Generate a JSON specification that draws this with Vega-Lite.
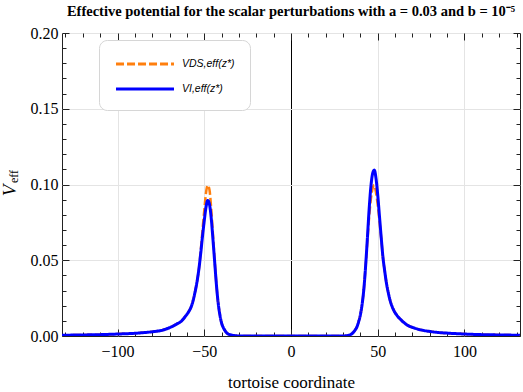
{
  "$schema": "https://vega.github.io/schema/vega-lite/v6.json",
  "width": 458,
  "height": 303,
  "autosize": {"type": "none"},
  "padding": {"left": 62, "top": 33, "right": 3, "bottom": 56},
  "background": "white",
  "config": {
    "view": {"stroke": "#222222", "strokeWidth": 1},
    "font": "Liberation Serif"
  },
  "title": {
    "text": "Effective potential for the scalar perturbations with a = 0.03 and b = 10⁻⁵",
    "font": "Liberation Serif",
    "fontSize": 14.5,
    "fontWeight": "bold",
    "color": "#000000",
    "anchor": "middle",
    "frame": "group",
    "baseline": "alphabetic",
    "offset": -5
  },
  "datasets": {
    "curves": [
      {"series": "VDS,eff(z*)", "x": -132, "v": 0.0005},
      {"series": "VDS,eff(z*)", "x": -120, "v": 0.0007},
      {"series": "VDS,eff(z*)", "x": -110, "v": 0.0009},
      {"series": "VDS,eff(z*)", "x": -100, "v": 0.0013},
      {"series": "VDS,eff(z*)", "x": -90, "v": 0.0018},
      {"series": "VDS,eff(z*)", "x": -80, "v": 0.0028},
      {"series": "VDS,eff(z*)", "x": -75, "v": 0.0036},
      {"series": "VDS,eff(z*)", "x": -70, "v": 0.0055},
      {"series": "VDS,eff(z*)", "x": -66, "v": 0.0078},
      {"series": "VDS,eff(z*)", "x": -63, "v": 0.0100},
      {"series": "VDS,eff(z*)", "x": -61, "v": 0.0128},
      {"series": "VDS,eff(z*)", "x": -59, "v": 0.0160},
      {"series": "VDS,eff(z*)", "x": -57, "v": 0.0210},
      {"series": "VDS,eff(z*)", "x": -55.5, "v": 0.0280},
      {"series": "VDS,eff(z*)", "x": -54, "v": 0.0370},
      {"series": "VDS,eff(z*)", "x": -53, "v": 0.0450},
      {"series": "VDS,eff(z*)", "x": -52, "v": 0.0567},
      {"series": "VDS,eff(z*)", "x": -51, "v": 0.0700},
      {"series": "VDS,eff(z*)", "x": -50, "v": 0.0828},
      {"series": "VDS,eff(z*)", "x": -49, "v": 0.0944},
      {"series": "VDS,eff(z*)", "x": -48, "v": 0.0994},
      {"series": "VDS,eff(z*)", "x": -47, "v": 0.0966},
      {"series": "VDS,eff(z*)", "x": -46, "v": 0.0842},
      {"series": "VDS,eff(z*)", "x": -45, "v": 0.0672},
      {"series": "VDS,eff(z*)", "x": -44, "v": 0.0500},
      {"series": "VDS,eff(z*)", "x": -43, "v": 0.0340},
      {"series": "VDS,eff(z*)", "x": -42, "v": 0.0220},
      {"series": "VDS,eff(z*)", "x": -41, "v": 0.0140},
      {"series": "VDS,eff(z*)", "x": -40, "v": 0.0085},
      {"series": "VDS,eff(z*)", "x": -39, "v": 0.0055},
      {"series": "VDS,eff(z*)", "x": -38, "v": 0.0035},
      {"series": "VDS,eff(z*)", "x": -37, "v": 0.0020},
      {"series": "VDS,eff(z*)", "x": -35, "v": 0.0008},
      {"series": "VDS,eff(z*)", "x": -32, "v": 0.0002},
      {"series": "VDS,eff(z*)", "x": -28, "v": 0},
      {"series": "VDS,eff(z*)", "x": -20, "v": 0},
      {"series": "VDS,eff(z*)", "x": -10, "v": 0},
      {"series": "VDS,eff(z*)", "x": 0, "v": 0},
      {"series": "VDS,eff(z*)", "x": 10, "v": 0},
      {"series": "VDS,eff(z*)", "x": 20, "v": 0},
      {"series": "VDS,eff(z*)", "x": 28, "v": 0},
      {"series": "VDS,eff(z*)", "x": 32, "v": 0.0002},
      {"series": "VDS,eff(z*)", "x": 34, "v": 0.0007},
      {"series": "VDS,eff(z*)", "x": 36, "v": 0.0025},
      {"series": "VDS,eff(z*)", "x": 37, "v": 0.0040},
      {"series": "VDS,eff(z*)", "x": 38, "v": 0.0060},
      {"series": "VDS,eff(z*)", "x": 39, "v": 0.0095},
      {"series": "VDS,eff(z*)", "x": 40, "v": 0.0140},
      {"series": "VDS,eff(z*)", "x": 41, "v": 0.0210},
      {"series": "VDS,eff(z*)", "x": 42, "v": 0.0310},
      {"series": "VDS,eff(z*)", "x": 43, "v": 0.0460},
      {"series": "VDS,eff(z*)", "x": 44, "v": 0.0620},
      {"series": "VDS,eff(z*)", "x": 45, "v": 0.0780},
      {"series": "VDS,eff(z*)", "x": 46, "v": 0.0900},
      {"series": "VDS,eff(z*)", "x": 47, "v": 0.0974},
      {"series": "VDS,eff(z*)", "x": 48, "v": 0.0996},
      {"series": "VDS,eff(z*)", "x": 49, "v": 0.0946},
      {"series": "VDS,eff(z*)", "x": 50, "v": 0.0865},
      {"series": "VDS,eff(z*)", "x": 51, "v": 0.0758},
      {"series": "VDS,eff(z*)", "x": 52, "v": 0.0644},
      {"series": "VDS,eff(z*)", "x": 53, "v": 0.0520},
      {"series": "VDS,eff(z*)", "x": 54, "v": 0.0430},
      {"series": "VDS,eff(z*)", "x": 55, "v": 0.0350},
      {"series": "VDS,eff(z*)", "x": 56, "v": 0.0290},
      {"series": "VDS,eff(z*)", "x": 57, "v": 0.0240},
      {"series": "VDS,eff(z*)", "x": 59, "v": 0.0175},
      {"series": "VDS,eff(z*)", "x": 61, "v": 0.0137},
      {"series": "VDS,eff(z*)", "x": 64, "v": 0.0100},
      {"series": "VDS,eff(z*)", "x": 67, "v": 0.0072},
      {"series": "VDS,eff(z*)", "x": 70, "v": 0.0057},
      {"series": "VDS,eff(z*)", "x": 75, "v": 0.0040},
      {"series": "VDS,eff(z*)", "x": 80, "v": 0.0030},
      {"series": "VDS,eff(z*)", "x": 86, "v": 0.0022},
      {"series": "VDS,eff(z*)", "x": 90, "v": 0.0019},
      {"series": "VDS,eff(z*)", "x": 100, "v": 0.0013},
      {"series": "VDS,eff(z*)", "x": 110, "v": 0.0009},
      {"series": "VDS,eff(z*)", "x": 120, "v": 0.0007},
      {"series": "VDS,eff(z*)", "x": 132, "v": 0.0005},

      {"series": "VI,eff(z*)", "x": -132, "v": 0.0005},
      {"series": "VI,eff(z*)", "x": -120, "v": 0.0007},
      {"series": "VI,eff(z*)", "x": -110, "v": 0.0009},
      {"series": "VI,eff(z*)", "x": -100, "v": 0.0013},
      {"series": "VI,eff(z*)", "x": -90, "v": 0.0018},
      {"series": "VI,eff(z*)", "x": -80, "v": 0.0028},
      {"series": "VI,eff(z*)", "x": -75, "v": 0.0036},
      {"series": "VI,eff(z*)", "x": -70, "v": 0.0055},
      {"series": "VI,eff(z*)", "x": -66, "v": 0.0078},
      {"series": "VI,eff(z*)", "x": -63, "v": 0.0100},
      {"series": "VI,eff(z*)", "x": -61, "v": 0.0128},
      {"series": "VI,eff(z*)", "x": -59, "v": 0.0160},
      {"series": "VI,eff(z*)", "x": -57, "v": 0.0210},
      {"series": "VI,eff(z*)", "x": -55.5, "v": 0.0280},
      {"series": "VI,eff(z*)", "x": -54, "v": 0.0370},
      {"series": "VI,eff(z*)", "x": -53, "v": 0.0450},
      {"series": "VI,eff(z*)", "x": -52, "v": 0.0550},
      {"series": "VI,eff(z*)", "x": -51, "v": 0.0660},
      {"series": "VI,eff(z*)", "x": -50, "v": 0.0760},
      {"series": "VI,eff(z*)", "x": -49, "v": 0.0850},
      {"series": "VI,eff(z*)", "x": -48, "v": 0.0895},
      {"series": "VI,eff(z*)", "x": -47, "v": 0.0870},
      {"series": "VI,eff(z*)", "x": -46, "v": 0.0780},
      {"series": "VI,eff(z*)", "x": -45, "v": 0.0640},
      {"series": "VI,eff(z*)", "x": -44, "v": 0.0490},
      {"series": "VI,eff(z*)", "x": -43, "v": 0.0340},
      {"series": "VI,eff(z*)", "x": -42, "v": 0.0220},
      {"series": "VI,eff(z*)", "x": -41, "v": 0.0140},
      {"series": "VI,eff(z*)", "x": -40, "v": 0.0085},
      {"series": "VI,eff(z*)", "x": -39, "v": 0.0055},
      {"series": "VI,eff(z*)", "x": -38, "v": 0.0035},
      {"series": "VI,eff(z*)", "x": -37, "v": 0.0020},
      {"series": "VI,eff(z*)", "x": -35, "v": 0.0008},
      {"series": "VI,eff(z*)", "x": -32, "v": 0.0002},
      {"series": "VI,eff(z*)", "x": -28, "v": 0},
      {"series": "VI,eff(z*)", "x": -20, "v": 0},
      {"series": "VI,eff(z*)", "x": -10, "v": 0},
      {"series": "VI,eff(z*)", "x": 0, "v": 0},
      {"series": "VI,eff(z*)", "x": 10, "v": 0},
      {"series": "VI,eff(z*)", "x": 20, "v": 0},
      {"series": "VI,eff(z*)", "x": 28, "v": 0},
      {"series": "VI,eff(z*)", "x": 32, "v": 0.0002},
      {"series": "VI,eff(z*)", "x": 34, "v": 0.0007},
      {"series": "VI,eff(z*)", "x": 36, "v": 0.0025},
      {"series": "VI,eff(z*)", "x": 37, "v": 0.0040},
      {"series": "VI,eff(z*)", "x": 38, "v": 0.0060},
      {"series": "VI,eff(z*)", "x": 39, "v": 0.0095},
      {"series": "VI,eff(z*)", "x": 40, "v": 0.0140},
      {"series": "VI,eff(z*)", "x": 41, "v": 0.0210},
      {"series": "VI,eff(z*)", "x": 42, "v": 0.0310},
      {"series": "VI,eff(z*)", "x": 43, "v": 0.0460},
      {"series": "VI,eff(z*)", "x": 44, "v": 0.0640},
      {"series": "VI,eff(z*)", "x": 45, "v": 0.0830},
      {"series": "VI,eff(z*)", "x": 46, "v": 0.0980},
      {"series": "VI,eff(z*)", "x": 47, "v": 0.1070},
      {"series": "VI,eff(z*)", "x": 48, "v": 0.1095},
      {"series": "VI,eff(z*)", "x": 49, "v": 0.1040},
      {"series": "VI,eff(z*)", "x": 50, "v": 0.0930},
      {"series": "VI,eff(z*)", "x": 51, "v": 0.0790},
      {"series": "VI,eff(z*)", "x": 52, "v": 0.0650},
      {"series": "VI,eff(z*)", "x": 53, "v": 0.0520},
      {"series": "VI,eff(z*)", "x": 54, "v": 0.0430},
      {"series": "VI,eff(z*)", "x": 55, "v": 0.0350},
      {"series": "VI,eff(z*)", "x": 56, "v": 0.0290},
      {"series": "VI,eff(z*)", "x": 57, "v": 0.0240},
      {"series": "VI,eff(z*)", "x": 59, "v": 0.0175},
      {"series": "VI,eff(z*)", "x": 61, "v": 0.0137},
      {"series": "VI,eff(z*)", "x": 64, "v": 0.0100},
      {"series": "VI,eff(z*)", "x": 67, "v": 0.0072},
      {"series": "VI,eff(z*)", "x": 70, "v": 0.0057},
      {"series": "VI,eff(z*)", "x": 75, "v": 0.0040},
      {"series": "VI,eff(z*)", "x": 80, "v": 0.0030},
      {"series": "VI,eff(z*)", "x": 86, "v": 0.0022},
      {"series": "VI,eff(z*)", "x": 90, "v": 0.0019},
      {"series": "VI,eff(z*)", "x": 100, "v": 0.0013},
      {"series": "VI,eff(z*)", "x": 110, "v": 0.0009},
      {"series": "VI,eff(z*)", "x": 120, "v": 0.0007},
      {"series": "VI,eff(z*)", "x": 132, "v": 0.0005}
    ],
    "zero": [{"x": 0, "y0": 0, "y1": 0.2}]
  },
  "resolve": {"axis": {"x": "independent", "y": "independent"}},
  "layer": [
    {
      "data": {"name": "zero"},
      "mark": {"type": "rule", "color": "#000000", "strokeWidth": 1, "strokeOpacity": 0},
      "encoding": {
        "x": {"field": "x", "type": "quantitative", "scale": {"domain": [-132, 132], "nice": false, "zero": false},
          "axis": {"orient": "bottom", "title": null, "labels": false, "ticks": false, "domain": false,
            "values": [0], "grid": true, "gridColor": "#000000", "gridWidth": 1, "gridOpacity": 1}},
        "y": {"field": "y0", "type": "quantitative", "scale": {"domain": [0, 0.2], "nice": false},
          "axis": {"orient": "left", "title": "eff", "labels": false, "ticks": false, "domain": false, "grid": false,
            "titleFont": "Liberation Serif", "titleFontSize": 12, "titleFontWeight": "normal", "titleColor": "#000000",
            "titleAngle": -90, "titleAlign": "center", "titleBaseline": "alphabetic", "titleX": -45, "titleY": 143}},
        "y2": {"field": "y1"}
      }
    },
    {
      "data": {"name": "curves"},
      "transform": [{"filter": "datum.series === 'VDS,eff(z*)'"}],
      "mark": {"type": "line", "strokeWidth": 2.5, "interpolate": "monotone", "clip": true},
      "encoding": {
        "x": {"field": "x", "type": "quantitative", "scale": {"domain": [-132, 132], "nice": false, "zero": false},
          "axis": {"orient": "bottom", "title": "tortoise coordinate",
            "values": [-130, -120, -110, -100, -90, -80, -70, -60, -50, -40, -30, -20, -10, 0, 10, 20, 30, 40, 50, 60, 70, 80, 90, 100, 110, 120, 130],
            "labelExpr": "datum.value % 50 === 0 ? datum.label : ''",
            "labelOverlap": false, "labelFont": "Liberation Serif", "labelFontSize": 16, "labelColor": "#000000",
            "labelPadding": 14,
            "tickSize": {"condition": {"test": "datum.value % 50 === 0", "value": -7}, "value": -4},
            "tickColor": "#222222", "tickWidth": 1,
            "domain": false,
            "grid": true, "gridColor": "#e4e4e4", "gridWidth": 1,
            "gridOpacity": {"condition": {"test": "datum.value % 50 === 0 && datum.value !== 0", "value": 1}, "value": 0},
            "titleFont": "Liberation Serif", "titleFontSize": 17, "titleFontWeight": "normal", "titleColor": "#000000",
            "titlePadding": 12}},
        "y": {"field": "v", "type": "quantitative", "scale": {"domain": [0, 0.2], "nice": false},
          "axis": {"orient": "left", "title": "V",
            "values": [0, 0.01, 0.02, 0.03, 0.04, 0.05, 0.06, 0.07, 0.08, 0.09, 0.1, 0.11, 0.12, 0.13, 0.14, 0.15, 0.16, 0.17, 0.18, 0.19, 0.2],
            "format": ".2f",
            "labelExpr": "round(datum.value * 100) % 5 === 0 ? datum.label : ''",
            "labelOverlap": false, "labelFont": "Liberation Serif", "labelFontSize": 16, "labelColor": "#000000",
            "labelPadding": 11,
            "tickSize": {"condition": {"test": "round(datum.value * 100) % 5 === 0", "value": -7}, "value": -4},
            "tickColor": "#222222", "tickWidth": 1,
            "domain": false,
            "grid": true, "gridColor": "#e4e4e4", "gridWidth": 1,
            "gridOpacity": {"condition": {"test": "round(datum.value * 100) % 5 === 0 && datum.value > 0.001", "value": 1}, "value": 0},
            "titleFont": "Liberation Serif", "titleFontSize": 19, "titleFontStyle": "italic", "titleFontWeight": "normal", "titleColor": "#000000",
            "titleAngle": -90, "titleAlign": "center", "titleBaseline": "alphabetic", "titleX": -47, "titleY": 157}},
        "color": {"field": "series", "type": "nominal",
          "scale": {"domain": ["VDS,eff(z*)", "VI,eff(z*)"], "range": ["#ff7f0e", "#0000ff"]},
          "legend": {"title": null, "orient": "none", "legendX": 37, "legendY": 7,
            "symbolType": "M-4,0H4", "symbolSize": 210, "symbolStrokeWidth": 3, "symbolOffset": 22,
            "labelFont": "Liberation Sans", "labelFontSize": 10.5, "labelFontStyle": "italic", "labelColor": "#000000",
            "padding": 15, "rowPadding": 10, "labelOffset": 28,
            "strokeColor": "#d6d6d6", "cornerRadius": 8, "fillColor": "#ffffff"}},
        "strokeDash": {"field": "series", "type": "nominal",
          "scale": {"domain": ["VDS,eff(z*)", "VI,eff(z*)"], "range": [[8, 3], [1, 0]]}}
      }
    },
    {
      "data": {"name": "curves"},
      "transform": [{"filter": "datum.series === 'VI,eff(z*)'"}],
      "mark": {"type": "line", "strokeWidth": 3, "interpolate": "monotone", "clip": true},
      "encoding": {
        "x": {"field": "x", "type": "quantitative", "scale": {"domain": [-132, 132], "nice": false, "zero": false},
          "axis": {"orient": "top", "title": null, "labels": false,
            "values": [-130, -120, -110, -100, -90, -80, -70, -60, -50, -40, -30, -20, -10, 0, 10, 20, 30, 40, 50, 60, 70, 80, 90, 100, 110, 120, 130],
            "tickSize": {"condition": {"test": "datum.value % 50 === 0", "value": -7}, "value": -4},
            "tickColor": "#222222", "tickWidth": 1, "domain": false, "grid": false}},
        "y": {"field": "v", "type": "quantitative", "scale": {"domain": [0, 0.2], "nice": false},
          "axis": {"orient": "right", "title": null, "labels": false,
            "values": [0, 0.01, 0.02, 0.03, 0.04, 0.05, 0.06, 0.07, 0.08, 0.09, 0.1, 0.11, 0.12, 0.13, 0.14, 0.15, 0.16, 0.17, 0.18, 0.19, 0.2],
            "tickSize": {"condition": {"test": "round(datum.value * 100) % 5 === 0", "value": -7}, "value": -4},
            "tickColor": "#222222", "tickWidth": 1, "domain": false, "grid": false}},
        "color": {"field": "series", "type": "nominal",
          "scale": {"domain": ["VDS,eff(z*)", "VI,eff(z*)"], "range": ["#ff7f0e", "#0000ff"]}},
        "strokeDash": {"field": "series", "type": "nominal",
          "scale": {"domain": ["VDS,eff(z*)", "VI,eff(z*)"], "range": [[8, 3], [1, 0]]}}
      }
    }
  ]
}
